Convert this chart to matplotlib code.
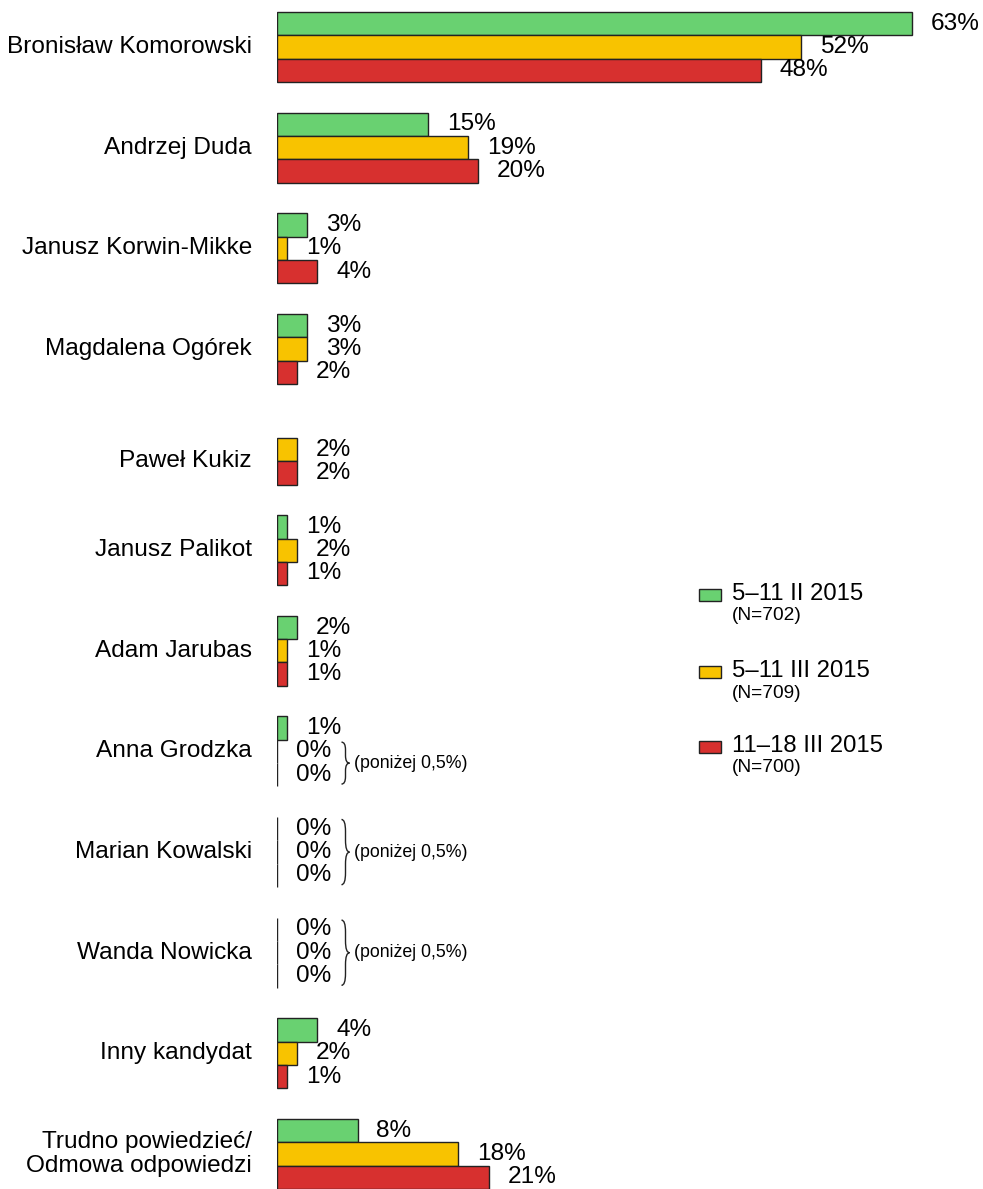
import matplotlib
matplotlib.use("Agg")
import matplotlib.pyplot as plt
from matplotlib.path import Path
from matplotlib.patches import PathPatch, Rectangle

plt.rcParams["font.family"] = ["Liberation Sans", "DejaVu Sans"]

# data (None = candidate not asked about in that wave)
candidates = [
    "Bronisław Komorowski", "Andrzej Duda", "Janusz Korwin-Mikke",
    "Magdalena Ogórek", "Paweł Kukiz", "Janusz Palikot", "Adam Jarubas",
    "Anna Grodzka", "Marian Kowalski", "Wanda Nowicka", "Inny kandydat",
    "Trudno powiedzieć/\nOdmowa odpowiedzi",
]
feb = [63, 15, 3, 3, None, 1, 2, 1, 0, 0, 4, 8]
mar1 = [52, 19, 1, 3, 2, 2, 1, 0, 0, 0, 2, 18]
mar2 = [48, 20, 4, 2, 2, 1, 1, 0, 0, 0, 1, 21]
series_names = ["5–11 II 2015", "5–11 III 2015", "11–18 III 2015"]
series_n = ["(N=702)", "(N=709)", "(N=700)"]
colors = ["#69D171", "#F8C300", "#D7302F"]
below_half = ["Anna Grodzka", "Marian Kowalski", "Wanda Nowicka"]

fig = plt.figure(figsize=(9.83, 11.89), dpi=100)
ax = fig.add_axes([277 / 983, 0, 1 - 277 / 983 - 0.007, 1])

h = 0.2316
series = [feb, mar1, mar2]
for k, vals in enumerate(series):
    for i, v in enumerate(vals):
        if v is None:
            continue
        y = i + (k - 1) * h
        ax.barh(y, v, height=h, color=colors[k], edgecolor="#222222",
                linewidth=1.0)
        ax.annotate(f"{v}%", (v, y), xytext=(13.5, 0), textcoords="offset points",
                    ha="left", va="center", fontsize=17.6)

# category labels, centred on the visible bars of each group
for i, name in enumerate(candidates):
    present = [k for k in range(3) if series[k][i] is not None]
    yc = i + (sum(present) / len(present) - 1) * h
    ax.annotate(name, (0, yc), xytext=(-18, 0), textcoords="offset points",
                ha="right", va="center", fontsize=17.6, linespacing=1.1,
                annotation_clip=False)


def brace(ax, x0, ytop, ybot, w):
    xm, xp = x0 + w / 2, x0 + w
    ymid = (ytop + ybot) / 2
    r = (ybot - ytop) * 0.18
    verts = [(x0, ytop), (xm, ytop), (xm, ytop + r),
             (xm, ymid - r), (xm, ymid), (xp, ymid),
             (xm, ymid), (xm, ymid + r),
             (xm, ybot - r), (xm, ybot), (x0, ybot)]
    codes = [Path.MOVETO, Path.CURVE3, Path.CURVE3,
             Path.LINETO, Path.CURVE3, Path.CURVE3,
             Path.CURVE3, Path.CURVE3,
             Path.LINETO, Path.CURVE3, Path.CURVE3]
    ax.add_patch(PathPatch(Path(verts, codes), fill=False, lw=1.0,
                           edgecolor="#222222"))


for name in below_half:
    i = candidates.index(name)
    zero_rows = [k for k in range(3) if series[k][i] == 0]
    ytop = i + (zero_rows[0] - 1) * h - h * 0.4
    ybot = i + (zero_rows[-1] - 1) * h + h * 0.4
    brace(ax, 6.4, ytop, ybot, 0.8)
    ax.text(7.6, (ytop + ybot) / 2, "(poniżej 0,5%)", ha="left", va="center",
            fontsize=12.8)

# legend
for k in range(3):
    ly = [594, 671, 746][k]
    fig.patches.append(Rectangle((699 / 983, 1 - (ly + 7) / 1189), 22 / 983,
                                 12 / 1189, transform=fig.transFigure,
                                 facecolor=colors[k], edgecolor="#222222",
                                 linewidth=1.0))
    fig.text(732 / 983, 1 - ly / 1189, series_names[k], ha="left",
             va="center", fontsize=17.2)
    fig.text(732 / 983, 1 - (ly + 22) / 1189, series_n[k], ha="left",
             va="center", fontsize=13.8)

ax.set_xlim(0, 69.4)
ax.set_ylim(11 + 35 / 100.6, -47 / 100.6)
ax.axis("off")

fig.savefig("out.png", dpi=100)
